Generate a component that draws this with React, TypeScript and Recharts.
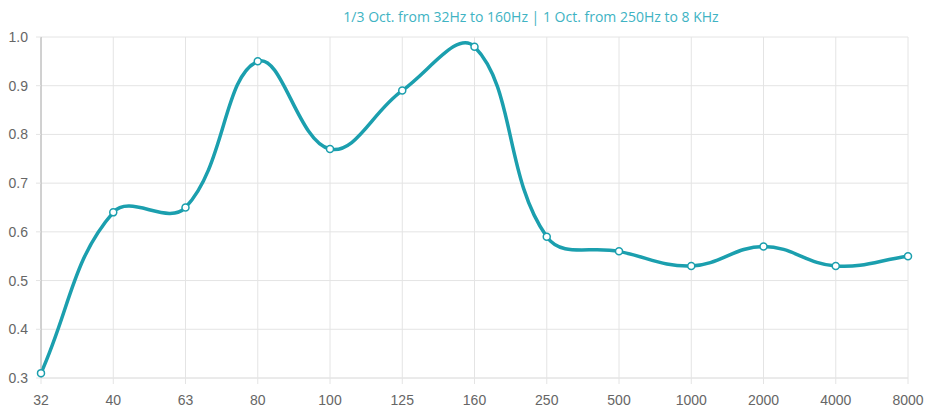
import React from 'react';
import { LineChart, Line, XAxis, YAxis, CartesianGrid } from 'recharts';

// Frequency bands (Hz) and absorption values
const bands = ['32', '40', '63', '80', '100', '125', '160', '250', '500', '1000', '2000', '4000', '8000'];
const absorption = [0.31, 0.64, 0.65, 0.95, 0.77, 0.89, 0.98, 0.59, 0.56, 0.53, 0.57, 0.53, 0.55];
const yTicks = [0.3, 0.4, 0.5, 0.6, 0.7, 0.8, 0.9, 1.0];

const title = '1/3 Oct. from 32Hz to 160Hz | 1 Oct. from 250Hz to 8 KHz';

const LINE_COLOR = '#1b9fae';
const GRID_COLOR = '#e4e4e4';

// Chart.js-style bezier spline (tension 0.4), as a d3 curve factory
const splineCurve = (tension: number) => (context: any) => {
  let pts: [number, number][] = [];
  return {
    areaStart() {},
    areaEnd() {},
    lineStart() {
      pts = [];
    },
    point(x: number, y: number) {
      pts.push([+x, +y]);
    },
    lineEnd() {
      if (!pts.length) return;
      const ctrl = pts.map((p, i) => {
        const prev = i > 0 ? pts[i - 1] : p;
        const next = i < pts.length - 1 ? pts[i + 1] : p;
        const d01 = Math.hypot(p[0] - prev[0], p[1] - prev[1]);
        const d12 = Math.hypot(next[0] - p[0], next[1] - p[1]);
        const sum = d01 + d12 || 1;
        const fa = (tension * d01) / sum;
        const fb = (tension * d12) / sum;
        return {
          inner: [p[0] - fa * (next[0] - prev[0]), p[1] - fa * (next[1] - prev[1])],
          outer: [p[0] + fb * (next[0] - prev[0]), p[1] + fb * (next[1] - prev[1])],
        };
      });
      context.moveTo(pts[0][0], pts[0][1]);
      for (let i = 1; i < pts.length; i++) {
        const a = ctrl[i - 1].outer;
        const b = ctrl[i].inner;
        context.bezierCurveTo(a[0], a[1], b[0], b[1], pts[i][0], pts[i][1]);
      }
    },
  };
};

const chartData = bands.map((band, i) => ({ band, value: absorption[i] }));

const tickStyle = { fill: '#666', fontSize: 14, fontFamily: 'Liberation Sans, Arial, sans-serif' };

export default function App() {
  return (
    <div style={{ position: 'absolute', left: 0, top: 0, width: 928, height: 410, background: '#fff' }}>
      <div
        style={{
          position: 'absolute',
          left: 281,
          top: 8,
          width: 500,
          textAlign: 'center',
          fontFamily: '"Open Sans", "DejaVu Sans", sans-serif',
          fontSize: 14,
          lineHeight: '18px',
          color: '#40b3c3',
        }}
      >
        {title}
      </div>
      <LineChart width={928} height={410} data={chartData} margin={{ top: 37, right: 20, left: 0, bottom: 8 }}>
        <CartesianGrid stroke={GRID_COLOR} strokeWidth={1} />
        <XAxis
          dataKey="band"
          stroke={GRID_COLOR}
          tickLine={{ stroke: GRID_COLOR }}
          tickSize={6}
          tickMargin={11}
          height={24}
          tick={tickStyle}
          interval={0}
        />
        <YAxis
          domain={[0.3, 1.0]}
          ticks={yTicks}
          width={41}
          stroke="#b0b0b0"
          tickLine={{ stroke: GRID_COLOR }}
          tickSize={5}
          tickMargin={8}
          tick={tickStyle}
          tickFormatter={(v: number) => v.toFixed(1)}
          allowDataOverflow
        />
        <Line
          dataKey="value"
          type={splineCurve(0.4) as any}
          stroke={LINE_COLOR}
          strokeWidth={3.5}
          dot={{ r: 3.5, fill: '#fff', stroke: LINE_COLOR, strokeWidth: 1.5 }}
          activeDot={false}
          isAnimationActive={false}
        />
      </LineChart>
    </div>
  );
}
